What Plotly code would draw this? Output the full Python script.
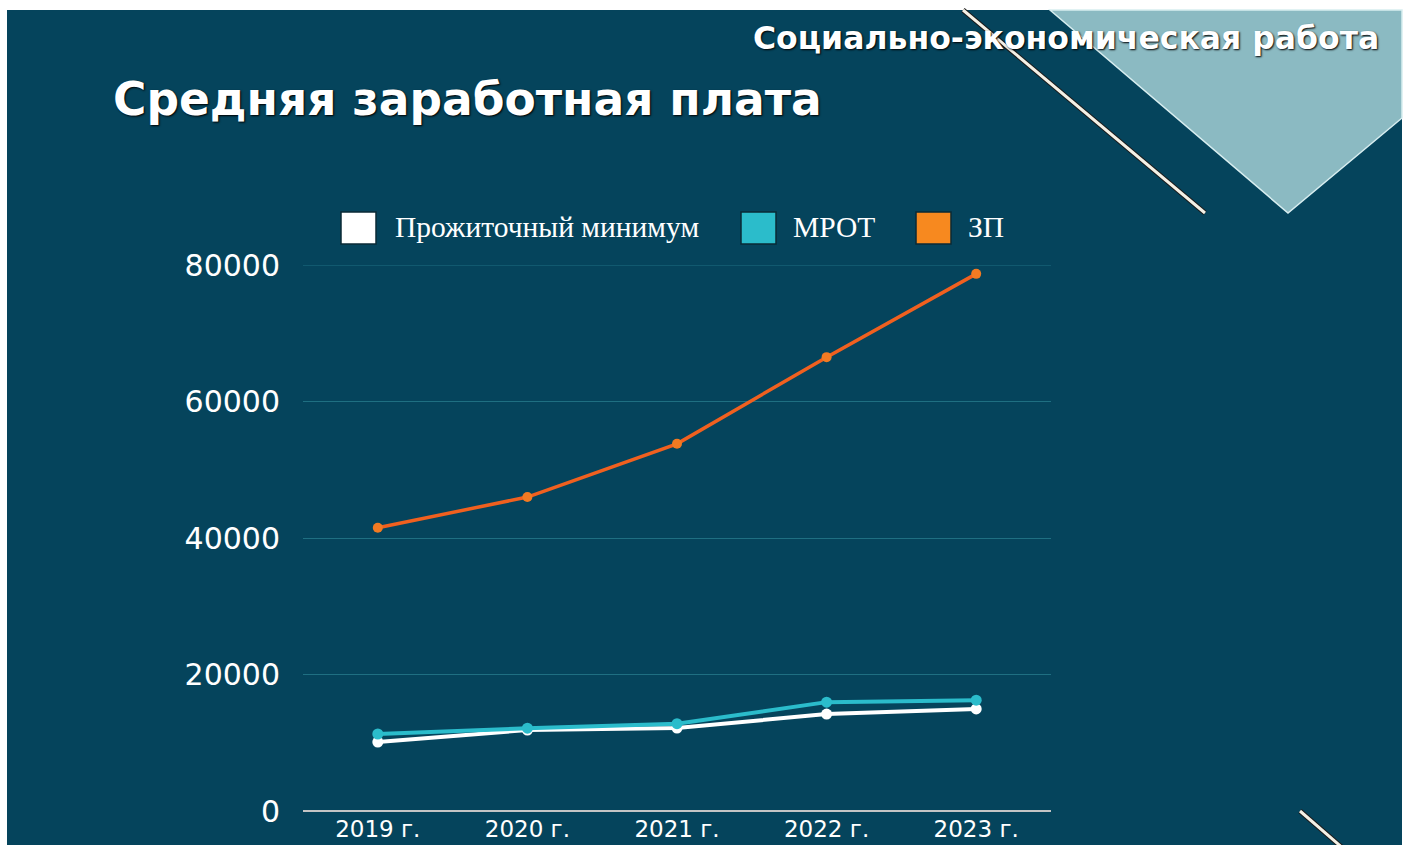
import plotly.graph_objects as go

years = ["2019 г.", "2020 г.", "2021 г.", "2022 г.", "2023 г."]
pm = [10100, 11870, 12160, 14200, 14950]      # Прожиточный минимум
mrot = [11280, 12130, 12790, 15950, 16240]    # МРОТ
zp = [41500, 46000, 53800, 66500, 78700]      # ЗП
y_ticks = [0, 20000, 40000, 60000, 80000]

W, H = 1407, 845
L, R, T, B = 303, 1051, 265, 811
BG = "#05445c"

def px(x):
    return (x - L) / (R - L)

def py(y):
    return (B - y) / (B - T)

fig = go.Figure()
fig.add_trace(go.Scatter(x=years, y=pm, mode="lines+markers", name="Прожиточный минимум",
                         line=dict(color="#ffffff", width=4), marker=dict(size=11, color="#ffffff"),
                         showlegend=False, cliponaxis=False))
fig.add_trace(go.Scatter(x=years, y=mrot, mode="lines+markers", name="МРОТ",
                         line=dict(color="#2bbccb", width=4), marker=dict(size=11, color="#2bbccb"),
                         showlegend=False, cliponaxis=False))
fig.add_trace(go.Scatter(x=years, y=zp, mode="lines+markers", name="ЗП",
                         line=dict(color="#f0601f", width=3.5), marker=dict(size=10, color="#f27a22"),
                         showlegend=False, cliponaxis=False))

shapes = []
# white frame strips
shapes.append(dict(type="rect", xref="paper", yref="paper", x0=px(0), x1=px(W), y0=py(0), y1=py(10),
                   fillcolor="#ffffff", line=dict(width=0), layer="below"))
shapes.append(dict(type="rect", xref="paper", yref="paper", x0=px(0), x1=px(7), y0=py(0), y1=py(H),
                   fillcolor="#ffffff", line=dict(width=0), layer="below"))
shapes.append(dict(type="rect", xref="paper", yref="paper", x0=px(1402), x1=px(W), y0=py(0), y1=py(H),
                   fillcolor="#ffffff", line=dict(width=0), layer="below"))
# light triangle
tri = [(1050, 10), (1402, 10), (1402, 118), (1288, 213)]
path = "M " + " L ".join(f"{px(a)},{py(b)}" for a, b in tri) + " Z"
shapes.append(dict(type="path", xref="paper", yref="paper", path=path,
                   fillcolor="#8bbac2", line=dict(color="#d8eef0", width=1.5), layer="below"))
# diagonal lines
for (x0, y0, x1, y1) in [(963, 10, 1205, 213), (1300, 811, 1345, 850)]:
    shapes.append(dict(type="line", xref="paper", yref="paper", x0=px(x0), y0=py(y0), x1=px(x1), y1=py(y1),
                       line=dict(color="#1a1a1a", width=5), layer="below"))
    shapes.append(dict(type="line", xref="paper", yref="paper", x0=px(x0), y0=py(y0), x1=px(x1), y1=py(y1),
                       line=dict(color="#f4f1e6", width=3), layer="below"))
# top gridline at 80000 (edge of plot area)
shapes.append(dict(type="line", xref="paper", yref="y", x0=0, x1=1, y0=80000, y1=80000,
                   line=dict(color="#1f6f82", width=1), layer="below"))

# legend swatches
legend_items = [("Прожиточный минимум", "#ffffff", 341, 393),
                ("МРОТ", "#2bbccb", 741, 791),
                ("ЗП", "#f7891f", 916, 966)]
annotations = []
for name, col, sx, tx in legend_items:
    shapes.append(dict(type="rect", xref="paper", yref="paper", x0=px(sx), x1=px(sx + 35),
                       y0=py(244), y1=py(212), fillcolor=col, line=dict(color="#0a2a36", width=1.5)))
    annotations.append(dict(text=name, xref="paper", yref="paper", x=px(tx), y=py(227),
                            xanchor="left", yanchor="middle", showarrow=False,
                            font=dict(family="Liberation Serif", size=29.5, color="#ffffff")))

annotations.append(dict(text="<b>Средняя заработная плата</b>", xref="paper", yref="paper",
                        x=px(111), y=py(100), xanchor="left", yanchor="middle", showarrow=False,
                        font=dict(family="DejaVu Sans", size=45.5, color="#ffffff", shadow="1px 1px 2px #000")))
annotations.append(dict(text="<b>Социально-экономическая работа</b>", xref="paper", yref="paper",
                        x=px(1381), y=py(38), xanchor="right", yanchor="middle", showarrow=False,
                        font=dict(family="DejaVu Sans", size=31.5, color="#ffffff", shadow="1px 1px 2px #000")))

fig.update_layout(
    width=W, height=H,
    margin=dict(l=L, r=W - R, t=T, b=H - B, pad=0, autoexpand=False),
    paper_bgcolor=BG, plot_bgcolor="rgba(0,0,0,0)",
    shapes=shapes, annotations=annotations, showlegend=False,
    font=dict(family="DejaVu Sans", color="#ffffff"),
    xaxis=dict(type="category", range=[-0.5, 4.5], showgrid=False, zeroline=False, showline=False,
               automargin=False,
               tickfont=dict(family="DejaVu Sans", size=23, color="#ffffff"),
               ticklabelstandoff=2),
    yaxis=dict(range=[0, 80000], tickvals=y_ticks, ticktext=[str(v) for v in y_ticks],
               showgrid=True, gridcolor="#1f6f82", gridwidth=1, automargin=False,
               zeroline=True, zerolinecolor="#c4c4c4", zerolinewidth=2, showline=False,
               tickfont=dict(family="DejaVu Sans", size=30, color="#ffffff"),
               ticklabelstandoff=22),
)

fig.write_html("out.html", config={"displayModeBar": False},
               post_script="document.body.style.margin='0';document.body.style.overflow='hidden';")
